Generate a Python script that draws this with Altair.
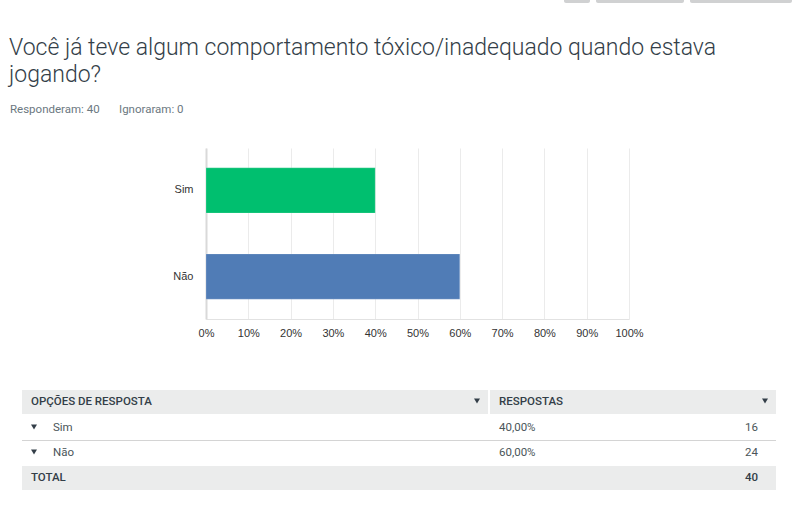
import altair as alt
import pandas as pd

# ---- data ----
title_lines = ["Você já teve algum comportamento tóxico/inadequado quando estava", "jogando?"]
answered_label = "Responderam: 40"
skipped_label = "Ignoraram: 0"
options = ["Sim", "Não"]
counts = [16, 24]
bar_colors = ["#00bf6f", "#507cb6"]
x_ticks = [0, 0.1, 0.2, 0.3, 0.4, 0.5, 0.6, 0.7, 0.8, 0.9, 1.0]
header_labels = ["OPÇÕES DE RESPOSTA", "RESPOSTAS"]
total_label = "TOTAL"

total = sum(counts)
pct = [c / total for c in counts]
pct_text = [f"{p*100:.2f}%".replace(".", ",") for p in pct]

df = pd.DataFrame({"option": options, "pct": pct, "count": counts})
one = pd.DataFrame({"k": [0]})

W, H = 423, 171
OX, OY = 206, 148  # plot origin inside page

FONT_UI = "Roboto"
FONT_AX = "Liberation Sans"

bars = alt.Chart(df).mark_bar(stroke="#ffffff", strokeWidth=0.5, strokeOpacity=0.4).encode(
    x=alt.X("pct:Q", scale=alt.Scale(domain=[0, 1], nice=False),
            axis=alt.Axis(values=x_ticks, format=".0%", title=None, grid=True,
                          gridColor="#ebebeb", gridWidth=1, domainColor="#e2e2e2",
                          ticks=False, labelFont=FONT_AX, labelFontSize=11,
                          labelColor="#333333", labelPadding=8, labelFlush=False)),
    y=alt.Y("option:N", sort=options,
            scale=alt.Scale(paddingInner=0.474, paddingOuter=0.23),
            axis=alt.Axis(title=None, ticks=False, domainColor="#d9d9d9", domainWidth=2,
                          labelFont=FONT_AX, labelFontSize=11, labelColor="#333333",
                          labelPadding=13)),
    color=alt.Color("option:N", scale=alt.Scale(domain=options, range=bar_colors), legend=None),
)

def px(x):
    return x - OX

def py(y):
    return y - OY

layers = [bars]

# top-right grey buttons
for x0, x1 in [(564, 590), (596, 684), (690, 792)]:
    layers.append(alt.Chart(one).mark_rect(color="#d0d1d2", cornerRadius=2).encode(
        x=alt.value(px(x0)), x2=alt.value(px(x1)), y=alt.value(py(-4)), y2=alt.value(py(3))))

# title
layers.append(alt.Chart(one).mark_text(align="left", baseline="middle", font=FONT_UI,
                                        fontSize=23, fontWeight=300, color="#333e48",
                                        lineHeight=27).encode(
    x=alt.value(px(9)), y=alt.value(py(48)), text=alt.value(title_lines)))

# subtitle
for xx, t in [(10, answered_label), (119, skipped_label)]:
    layers.append(alt.Chart(one).mark_text(align="left", baseline="middle", font=FONT_UI,
                                            fontSize=11.5, color="#6b787f").encode(
        x=alt.value(px(xx)), y=alt.value(py(110)), text=alt.value(t)))

# table backgrounds
layers.append(alt.Chart(one).mark_rect(color="#ebecec").encode(
    x=alt.value(px(22)), x2=alt.value(px(776)), y=alt.value(py(390)), y2=alt.value(py(414))))
layers.append(alt.Chart(one).mark_rect(color="#ffffff").encode(
    x=alt.value(px(488)), x2=alt.value(px(490)), y=alt.value(py(390)), y2=alt.value(py(414))))
layers.append(alt.Chart(one).mark_rect(color="#ebecec").encode(
    x=alt.value(px(22)), x2=alt.value(px(776)), y=alt.value(py(466)), y2=alt.value(py(490))))
layers.append(alt.Chart(one).mark_rule(color="#d4d4d4", strokeWidth=1).encode(
    x=alt.value(px(22)), x2=alt.value(px(776)), y=alt.value(py(440.5))))

# header texts
for xx, t in [(31, header_labels[0]), (499, header_labels[1])]:
    layers.append(alt.Chart(one).mark_text(align="left", baseline="middle", font=FONT_UI,
                                            fontSize=11.5, fontWeight=500, color="#333e48").encode(
        x=alt.value(px(xx)), y=alt.value(py(402)), text=alt.value(t)))
for xx in [477, 765]:
    layers.append(alt.Chart(one).mark_point(shape="triangle-down", filled=True, size=36,
                                             color="#333e48", opacity=1).encode(
        x=alt.value(px(xx)), y=alt.value(py(401))))

# rows
row_y = [428, 453]
for i, opt in enumerate(options):
    yy = row_y[i]
    layers.append(alt.Chart(one).mark_point(shape="triangle-down", filled=True, size=36,
                                             color="#333e48", opacity=1).encode(
        x=alt.value(px(34)), y=alt.value(py(yy - 1))))
    layers.append(alt.Chart(one).mark_text(align="left", baseline="middle", font=FONT_UI,
                                            fontSize=11.5, color="#4a5559").encode(
        x=alt.value(px(53)), y=alt.value(py(yy)), text=alt.value(opt)))
    layers.append(alt.Chart(one).mark_text(align="left", baseline="middle", font=FONT_UI,
                                            fontSize=11.5, color="#4a5559").encode(
        x=alt.value(px(499)), y=alt.value(py(yy)), text=alt.value(pct_text[i])))
    layers.append(alt.Chart(one).mark_text(align="right", baseline="middle", font=FONT_UI,
                                            fontSize=11.5, color="#4a5559").encode(
        x=alt.value(px(758)), y=alt.value(py(yy)), text=alt.value(str(counts[i]))))

# total row
layers.append(alt.Chart(one).mark_text(align="left", baseline="middle", font=FONT_UI,
                                        fontSize=11.5, fontWeight=500, color="#333e48").encode(
    x=alt.value(px(31)), y=alt.value(py(478)), text=alt.value(total_label)))
layers.append(alt.Chart(one).mark_text(align="right", baseline="middle", font=FONT_UI,
                                        fontSize=11.5, fontWeight=500, color="#333e48").encode(
    x=alt.value(px(758)), y=alt.value(py(478)), text=alt.value(str(total))))

chart = alt.layer(*layers).properties(
    width=W, height=H,
    autosize=alt.AutoSizeParams(type="none"),
    padding={"left": OX, "top": OY, "right": 797 - OX - W, "bottom": 513 - OY - H},
    background="#ffffff",
).configure_view(stroke=None)

chart.save("out.html", embed_options={"renderer": "svg", "actions": False})
